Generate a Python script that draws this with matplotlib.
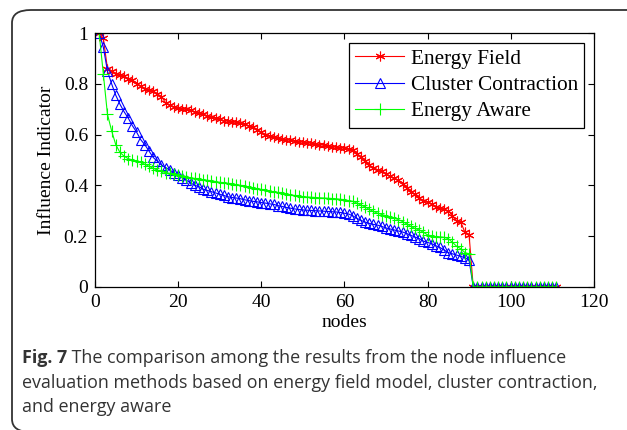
import matplotlib
matplotlib.use("Agg")
import matplotlib.pyplot as plt
from matplotlib.patches import FancyBboxPatch
import numpy as np

# values, nodes 1..90 (nodes 91..111 are zero)
energy_field = [1.00, 0.98, 0.86, 0.85, 0.84, 0.835, 0.83, 0.82, 0.815, 0.80,
                0.79, 0.78, 0.775, 0.77, 0.76, 0.75, 0.725, 0.715, 0.71, 0.705,
                0.70, 0.70, 0.695, 0.69, 0.685, 0.68, 0.675, 0.67, 0.665, 0.66,
                0.655, 0.653, 0.65, 0.648, 0.645, 0.64, 0.635, 0.63, 0.62, 0.61,
                0.60, 0.595, 0.59, 0.585, 0.582, 0.58, 0.577, 0.575, 0.572, 0.57,
                0.568, 0.566, 0.563, 0.56, 0.558, 0.555, 0.553, 0.55, 0.548, 0.546,
                0.543, 0.538, 0.525, 0.51, 0.495, 0.48, 0.468, 0.46, 0.455, 0.445,
                0.435, 0.428, 0.42, 0.405, 0.39, 0.375, 0.365, 0.35, 0.34, 0.335,
                0.325, 0.315, 0.31, 0.305, 0.30, 0.28, 0.26, 0.255, 0.215, 0.205]
cluster_contraction = [1.00, 0.945, 0.85, 0.80, 0.755, 0.72, 0.69, 0.665, 0.635, 0.61,
                       0.58, 0.56, 0.535, 0.51, 0.495, 0.48, 0.47, 0.46, 0.45, 0.44,
                       0.43, 0.42, 0.41, 0.40, 0.395, 0.385, 0.38, 0.375, 0.37, 0.365,
                       0.36, 0.355, 0.352, 0.35, 0.347, 0.343, 0.34, 0.337, 0.335, 0.332,
                       0.33, 0.327, 0.325, 0.32, 0.317, 0.313, 0.31, 0.307, 0.305, 0.303,
                       0.302, 0.301, 0.30, 0.299, 0.298, 0.297, 0.296, 0.295, 0.293, 0.29,
                       0.287, 0.28, 0.27, 0.262, 0.255, 0.25, 0.246, 0.243, 0.238, 0.232,
                       0.228, 0.224, 0.22, 0.216, 0.21, 0.203, 0.196, 0.19, 0.18, 0.175,
                       0.17, 0.162, 0.155, 0.145, 0.135, 0.13, 0.125, 0.12, 0.115, 0.105]
energy_aware = [1.00, 0.84, 0.68, 0.615, 0.56, 0.53, 0.515, 0.505, 0.50, 0.495,
                0.49, 0.483, 0.475, 0.467, 0.46, 0.455, 0.45, 0.447, 0.443, 0.44,
                0.437, 0.433, 0.43, 0.427, 0.425, 0.422, 0.42, 0.418, 0.415, 0.412,
                0.41, 0.408, 0.405, 0.403, 0.40, 0.397, 0.393, 0.39, 0.387, 0.384,
                0.38, 0.377, 0.375, 0.372, 0.368, 0.365, 0.362, 0.36, 0.357, 0.355,
                0.354, 0.353, 0.352, 0.351, 0.35, 0.349, 0.348, 0.347, 0.345, 0.343,
                0.34, 0.337, 0.33, 0.322, 0.315, 0.305, 0.297, 0.29, 0.285, 0.28,
                0.275, 0.27, 0.265, 0.257, 0.248, 0.238, 0.23, 0.224, 0.215, 0.205,
                0.20, 0.198, 0.197, 0.195, 0.19, 0.175, 0.16, 0.15, 0.135, 0.13]
zero_tail = [0.0] * 21

xticks = [0, 20, 40, 60, 80, 100, 120]
yticks = [0, 0.2, 0.4, 0.6, 0.8, 1]
ytick_labels = ["0", "0.2", "0.4", "0.6", "0.8", "1"]
caption_bold = "Fig. 7"
caption_lines = [" The comparison among the results from the node influence",
                 "evaluation methods based on energy field model, cluster contraction,",
                 "and energy aware"]

ef = np.array(energy_field + zero_tail)
cc = np.array(cluster_contraction + zero_tail)
ea = np.array(energy_aware + zero_tail)
nodes = np.arange(1, len(ef) + 1)

serif = ["Liberation Serif", "DejaVu Serif"]
fig = plt.figure(figsize=(6.27, 4.30), dpi=100)
ax = fig.add_axes([0.1515, 0.333, 0.7955, 0.590])

# matlab-style asterisk marker
asterisk = (6, 2, 0)
ax.plot(nodes, ef, color="red", marker=asterisk, markersize=7, linewidth=0.8,
        markeredgewidth=0.8, label="Energy Field")
ax.plot(nodes, cc, color="blue", marker="^", markersize=7, linewidth=0.8,
        markerfacecolor="none", markeredgewidth=0.8, label="Cluster Contraction")
ax.plot(nodes, ea, color="#00ff00", marker="+", markersize=8, linewidth=0.8,
        markeredgewidth=0.8, label="Energy Aware")

ax.set_xlim(0, 120)
ax.set_ylim(0, 1)
ax.set_xticks(xticks)
ax.set_xticklabels([str(t) for t in xticks], family=serif, fontsize=14)
ax.set_yticks(yticks)
ax.set_yticklabels(ytick_labels, family=serif, fontsize=14)
ax.tick_params(direction="in", top=True, right=True, length=4, width=0.8, pad=5)
for s in ax.spines.values():
    s.set_linewidth(0.9)
ax.set_xlabel("nodes", family=serif, fontsize=14, labelpad=2)
ax.set_ylabel("Influence Indicator", family=serif, fontsize=14, labelpad=6)

leg = ax.legend(loc="upper right", prop={"family": serif, "size": 15.3},
                fancybox=False, framealpha=1, edgecolor="black",
                handlelength=2.3, borderpad=0.3, labelspacing=0.3,
                handletextpad=0.3, borderaxespad=0.45)
leg.get_frame().set_linewidth(0.9)

# rounded frame around the figure and caption
box = FancyBboxPatch((12 / 627, 1 - 432 / 430), 700 / 627, 422 / 430,
                     boxstyle="round,pad=0,rounding_size=0.03",
                     transform=fig.transFigure, fill=False,
                     edgecolor="#333333", linewidth=1.3)
fig.patches.append(box)

cap_font = ["Open Sans", "DejaVu Sans"]
cap_size = 12.9
t0 = fig.text(22 / 627, 1 - 358 / 430, caption_bold, family=cap_font,
              fontsize=cap_size, fontweight="bold", color="#333333", va="center")
fig.canvas.draw()
bb = t0.get_window_extent(fig.canvas.get_renderer())
fig.text(bb.x1 / fig.bbox.width, 1 - 358 / 430, caption_lines[0], family=cap_font,
         fontsize=cap_size, color="#333333", va="center")
fig.text(22 / 627, 1 - 383 / 430, caption_lines[1], family=cap_font,
         fontsize=cap_size, color="#333333", va="center")
fig.text(22 / 627, 1 - 407 / 430, caption_lines[2], family=cap_font,
         fontsize=cap_size, color="#333333", va="center")

fig.savefig("out.png", dpi=100)
